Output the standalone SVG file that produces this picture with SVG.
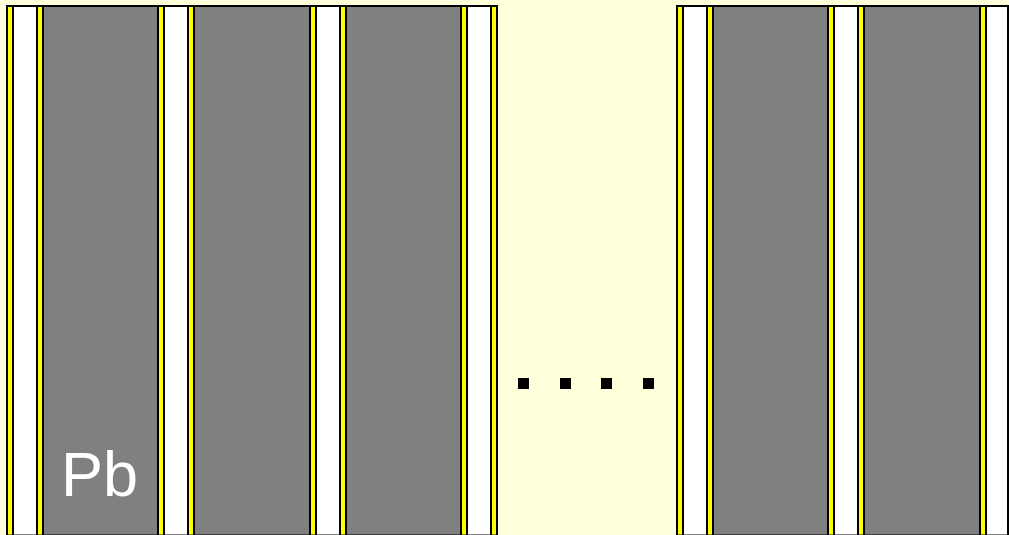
<svg xmlns="http://www.w3.org/2000/svg" width="1009" height="535" viewBox="0 0 1009 535">
<defs>
<style>
.g{fill:#808080;stroke:#000;stroke-width:2}
.y{fill:#ffff00;stroke:#000;stroke-width:2}
.w{fill:#ffffff;stroke:#000;stroke-width:2}
.d{fill:#000}
.t{font-family:"Liberation Sans",Arial,sans-serif;font-size:63px;fill:#fff}
</style>
<g id="strip">
<rect class="y" x="1" y="6" width="6" height="529.5"/>
<rect class="w" x="7" y="6" width="24" height="529.5"/>
<rect class="y" x="31" y="6" width="6" height="529.5"/>
</g>
</defs>
<rect x="0" y="0" width="1009" height="535" fill="#ffffdc"/>
<g id="left-block">
<rect class="g" x="8" y="6" width="489" height="529.5"/>
<use href="#strip" x="6"/>
<use href="#strip" x="157"/>
<use href="#strip" x="309"/>
<use href="#strip" x="460"/>
</g>
<g id="right-block">
<rect class="g" x="677" y="6" width="330" height="529.5"/>
<use href="#strip" x="676"/>
<use href="#strip" x="827"/>
<g>
<rect class="y" x="980" y="6" width="6" height="529.5"/>
<rect class="w" x="986" y="6" width="22" height="529.5"/>
</g>
</g>
<g id="ellipsis">
<rect class="d" x="518" y="378" width="11" height="11"/>
<rect class="d" x="560" y="378" width="11" height="11"/>
<rect class="d" x="601" y="378" width="11" height="11"/>
<rect class="d" x="643" y="378" width="11" height="11"/>
</g>
<g id="label">
<text class="t" x="61" y="496">Pb</text>
</g>
</svg>
